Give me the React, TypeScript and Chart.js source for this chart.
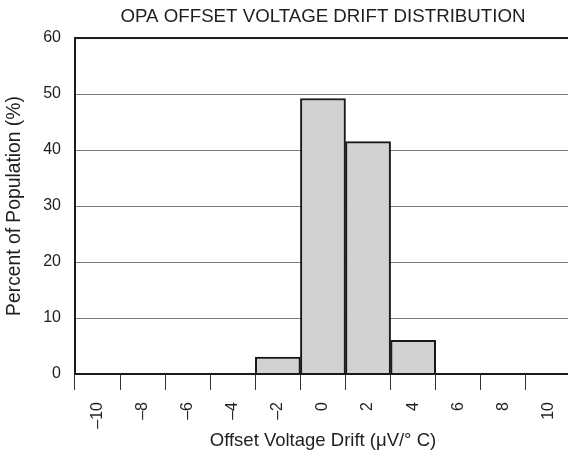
import React, { useEffect, useRef } from "react";
import { Chart, registerables } from "chart.js";

Chart.register(...registerables);

const categories = ["–10", "–8", "–6", "–4", "–2", "0", "2", "4", "6", "8", "10"];
const percentValues = [null, null, null, null, 3, 49.2, 41.5, 6, null, null, null];
const yTicks = [0, 10, 20, 30, 40, 50, 60];

const FONT = "'Liberation Sans', Arial, Helvetica, sans-serif";
const TEXT = "#1e1e1e";

const framePlugin = {
  id: "frame",
  afterDraw(chart: any) {
    const { ctx, chartArea } = chart;
    ctx.save();
    ctx.strokeStyle = "#1a1a1a";
    ctx.lineWidth = 2;
    ctx.strokeRect(chartArea.left, chartArea.top, chartArea.right - chartArea.left, chartArea.bottom - chartArea.top);
    ctx.restore();
  },
};

export default function App() {
  const ref = useRef<HTMLCanvasElement>(null);
  useEffect(() => {
    document.body.style.margin = "0";
    document.body.style.overflow = "hidden";
    document.documentElement.style.overflow = "hidden";
    const chart = new Chart(ref.current!, {
      type: "bar",
      data: {
        labels: categories,
        datasets: [
          {
            data: percentValues as any,
            backgroundColor: "#d1d2d4",
            borderColor: "#1a1a1a",
            borderWidth: 2,
            barPercentage: 1,
            categoryPercentage: 1,
          },
        ],
      },
      options: {
        animation: false,
        responsive: true,
        maintainAspectRatio: false,
        layout: { padding: { left: 0, right: 0, top: 0, bottom: 0 } },
        plugins: {
          legend: { display: false },
          tooltip: { enabled: false },
          title: {
            display: true,
            fullSize: false,
            text: "OPA OFFSET VOLTAGE DRIFT DISTRIBUTION",
            color: TEXT,
            font: { family: FONT, size: 18.7, weight: "normal" },
            padding: { top: 6, bottom: 9.6 },
            align: "center",
          },
        },
        scales: {
          x: {
            type: "category",
            offset: true,
            grid: {
              offset: true,
              drawOnChartArea: false,
              drawTicks: true,
              tickLength: 16,
              color: "#333",
              lineWidth: 1,
            },
            border: { color: "#1a1a1a", width: 2 },
            ticks: {
              minRotation: 90,
              maxRotation: 90,
              autoSkip: false,
              padding: 12,
              color: TEXT,
              font: { family: FONT, size: 16 },
            },
            title: {
              display: true,
              text: "Offset Voltage Drift (μV/° C)",
              color: TEXT,
              font: { family: FONT, size: 18.5 },
              padding: { top: 4, bottom: 9.6 },
            },
            afterFit(scale: any) {
              scale.height = 88;
            },
          },
          y: {
            min: 0,
            max: 60,
            afterBuildTicks(scale: any) {
              scale.ticks = yTicks.map((v) => ({ value: v }));
            },
            grid: { color: "#7a7a7a", lineWidth: 1, drawTicks: false },
            border: { color: "#1a1a1a", width: 2 },
            ticks: {
              padding: 14,
              color: TEXT,
              font: { family: FONT, size: 16 },
            },
            title: {
              display: true,
              text: "Percent of Population (%)",
              color: TEXT,
              font: { family: FONT, size: 19.3 },
              padding: { top: 3.4, bottom: 4 },
            },
            afterFit(scale: any) {
              scale.width = 75;
            },
          },
        },
      },
      plugins: [framePlugin],
    });
    return () => chart.destroy();
  }, []);
  return (
    <div style={{ width: 580, height: 462, position: "relative" }}>
      <canvas ref={ref} />
    </div>
  );
}
